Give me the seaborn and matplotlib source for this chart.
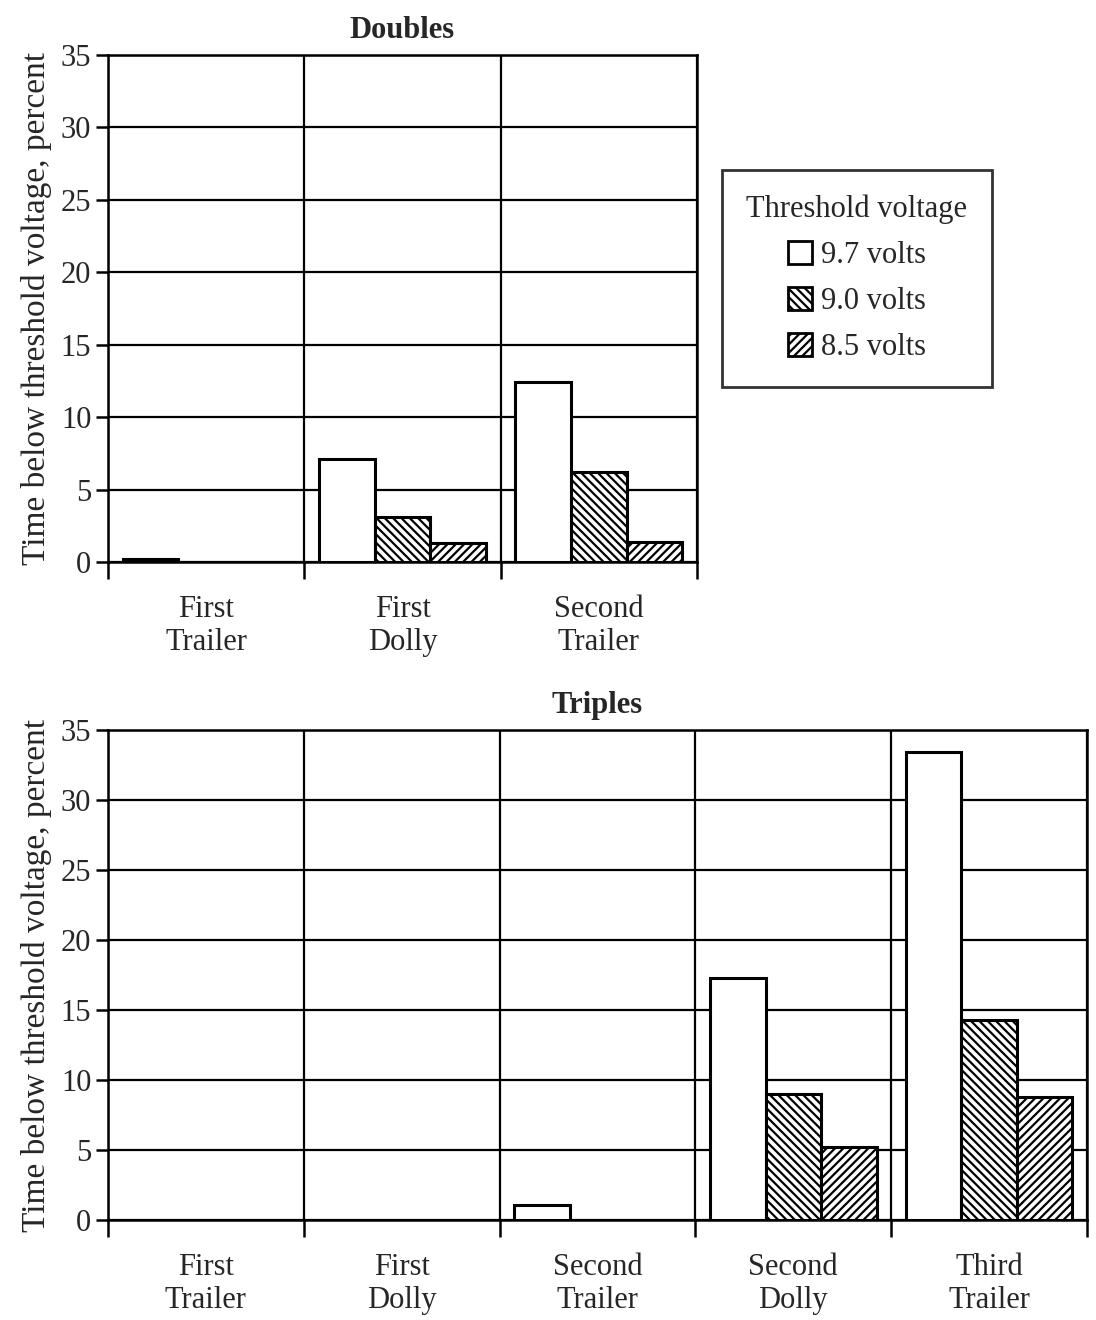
import matplotlib
matplotlib.use("Agg")
import matplotlib.pyplot as plt
import seaborn as sns
import pandas as pd
import numpy as np
from matplotlib.patches import Patch

sns.set_theme(style="white")
plt.rcParams['font.family'] = ['Liberation Serif', 'DejaVu Serif']
plt.rcParams['hatch.linewidth'] = 1.6

voltages = ["9.7 volts", "9.0 volts", "8.5 volts"]
hatches = ["", "\\\\\\\\", "////"]

doubles_cats = ["First\nTrailer", "First\nDolly", "Second\nTrailer"]
doubles_97 = [0.2, 7.1, 12.4]
doubles_90 = [0.0, 3.1, 6.2]
doubles_85 = [0.0, 1.3, 1.4]

triples_cats = ["First\nTrailer", "First\nDolly", "Second\nTrailer", "Second\nDolly", "Third\nTrailer"]
triples_97 = [0.0, 0.0, 1.1, 17.3, 33.4]
triples_90 = [0.0, 0.0, 0.0, 9.0, 14.3]
triples_85 = [0.0, 0.0, 0.0, 5.2, 8.8]

yticks = [0, 5, 10, 15, 20, 25, 30, 35]


def make_df(cats, a, b, c):
    rows = []
    for vals, v in zip([a, b, c], voltages):
        for cat, val in zip(cats, vals):
            rows.append({"cat": cat, "val": val, "volt": v})
    return pd.DataFrame(rows)


def draw(ax, cats, a, b, c, title):
    df = make_df(cats, a, b, c)
    sns.barplot(data=df, x="cat", y="val", hue="volt", order=cats, hue_order=voltages,
                palette=["white"] * 3, edgecolor="black", linewidth=2.2, width=0.85,
                ax=ax, legend=False, saturation=1)
    for cont, h in zip(ax.containers, hatches):
        for bar in cont:
            bar.set_hatch(h)
            bar.set_edgecolor("black")
            if bar.get_height() == 0:
                bar.set_visible(False)
    n = len(cats)
    ax.set_xlim(-0.5, n - 0.5)
    ax.set_ylim(0, 35)
    ax.set_yticks(yticks)
    ax.set_xticks(np.arange(n))
    ax.set_xticklabels(cats, fontsize=22, linespacing=1.15)
    ax.set_xticks(np.arange(n + 1) - 0.5, minor=True)
    ax.tick_params(axis="x", which="major", length=0, pad=24)
    ax.tick_params(axis="x", which="minor", length=12, width=1.8, color="black", bottom=True)
    ax.tick_params(axis="y", which="major", length=9, width=1.8, color="black", left=True,
                   labelsize=22, pad=3)
    ax.grid(True, axis="y", which="major", color="black", linewidth=1.6)
    ax.grid(True, axis="x", which="minor", color="black", linewidth=1.6)
    ax.set_axisbelow(True)
    for s in ax.spines.values():
        s.set_visible(True)
        s.set_color("black")
        s.set_linewidth(1.8)
    ax.set_xlabel("")
    ax.set_ylabel("Time below threshold voltage, percent", fontsize=24, labelpad=6)
    ax.set_title(title, fontsize=22, fontweight="bold", pad=12)


fig = plt.figure(figsize=(10.96, 13.2), dpi=100)
ax1 = fig.add_axes([108 / 1096, 1 - 562 / 1320, (697 - 108) / 1096, (562 - 55) / 1320])
ax2 = fig.add_axes([108 / 1096, 1 - 1220 / 1320, (1087 - 108) / 1096, (1220 - 730) / 1320])

draw(ax1, doubles_cats, doubles_97, doubles_90, doubles_85, "Doubles")
draw(ax2, triples_cats, triples_97, triples_90, triples_85, "Triples")

handles = [Patch(facecolor="white", edgecolor="black", hatch=h, linewidth=2) for h in hatches]
leg = fig.legend(handles, voltages, title="Threshold voltage", loc="upper left",
                 bbox_to_anchor=(722 / 1096, 1 - 170 / 1320), fontsize=22, title_fontsize=22,
                 frameon=True, fancybox=False, handlelength=0.8, handleheight=0.8,
                 handletextpad=0.3, borderpad=0.8, labelspacing=0.55, borderaxespad=0)
leg.get_frame().set_edgecolor("black")
leg.get_frame().set_linewidth(2)

fig.savefig("out.png", dpi=100, facecolor="white")
